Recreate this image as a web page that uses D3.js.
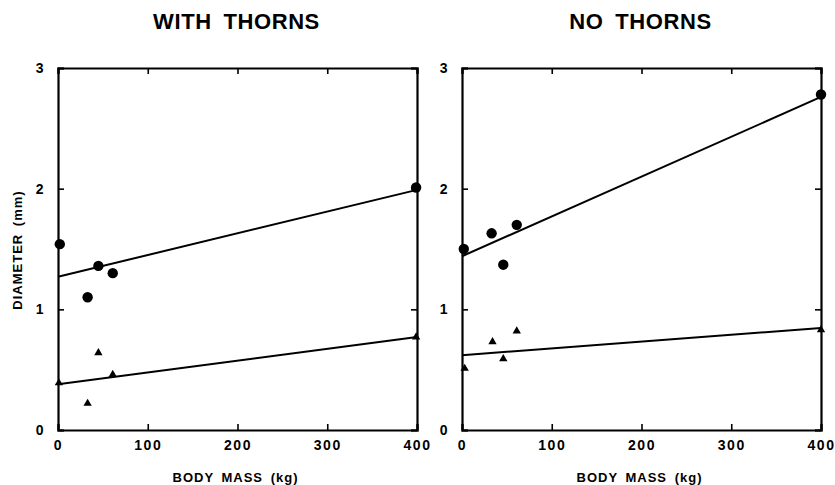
<!DOCTYPE html>
<html>
<head>
<meta charset="utf-8">
<script src="https://cdn.jsdelivr.net/npm/d3@7"></script>
<style>
  body { margin: 0; background: #fff; }
  svg { font-family: "Liberation Sans", Arial, sans-serif; font-weight: bold; }
</style>
</head>
<body>
<div class="chart"></div>
<script>
// panel titles
var panels = ['WITH THORNS', 'NO THORNS'];

// tick labels
var xTicks = [0, 100, 200, 300, 400];
var yTicks = [0, 1, 2, 3];

// circles (upper series)
var withCircles = [[2, 1.54], [33, 1.10], [45, 1.36], [61, 1.30], [399, 2.01]];
var noCircles = [[2, 1.50], [33, 1.63], [46, 1.37], [61, 1.70], [400, 2.78]];

// triangles (lower series)
var withTriangles = [[1, 0.39], [33, 0.22], [45, 0.64], [61, 0.46], [399, 0.77]];
var noTriangles = [[3, 0.51], [34, 0.73], [46, 0.59], [61, 0.82], [400, 0.83]];

// regression lines: [value at 0, value at 400]
var withLines = [[1.27, 1.99], [0.38, 0.77]];
var noLines = [[1.44, 2.76], [0.62, 0.845]];

var data = [
    { title: panels[0], circles: withCircles, triangles: withTriangles, lines: withLines, left: 58 },
    { title: panels[1], circles: noCircles, triangles: noTriangles, lines: noLines, left: 462 }
];

var W = 835, H = 485;
var plotTop = 68, plotBottom = 430, plotW = 359;

var svg = d3.select('.chart')
    .append('svg')
    .attr('width', W)
    .attr('height', H);

data.forEach(function(p, i) {
    var x = d3.scaleLinear().domain([0, 400]).range([p.left, p.left + plotW]);
    var y = d3.scaleLinear().domain([0, 3]).range([plotBottom, plotTop]);
    var g = svg.append('g');

    // title
    g.append('text')
        .attr('x', p.left + plotW / 2 - 1)
        .attr('y', 29)
        .attr('text-anchor', 'middle')
        .style('font-size', '22px')
        .style('letter-spacing', '0.6px')
        .style('word-spacing', '5px')
        .text(p.title);

    // axes with inward ticks
    var bottomAxis = d3.axisBottom(x).tickValues(xTicks).tickSize(-6).tickPadding(10);
    var topAxis = d3.axisTop(x).tickValues(xTicks).tickSize(-6).tickFormat('');
    var leftAxis = d3.axisLeft(y).tickValues(yTicks).tickSize(-6).tickPadding(13).tickFormat(d3.format('d'));
    var rightAxis = d3.axisRight(y).tickValues(yTicks).tickSize(-6).tickFormat('');

    g.append('g').attr('class', 'ax').attr('transform', 'translate(0,' + plotBottom + ')').call(bottomAxis);
    g.append('g').attr('class', 'ax').attr('transform', 'translate(0,' + plotTop + ')').call(topAxis);
    g.append('g').attr('class', 'ax').attr('transform', 'translate(' + p.left + ',0)').call(leftAxis);
    g.append('g').attr('class', 'ax').attr('transform', 'translate(' + (p.left + plotW) + ',0)').call(rightAxis);

    g.selectAll('.ax .domain').attr('stroke', '#000').attr('stroke-width', 2.2);
    g.selectAll('.ax line').attr('stroke', '#000').attr('stroke-width', 1.6);
    g.selectAll('.ax text')
        .attr('fill', '#000')
        .style('font-size', '14px')
        .style('font-weight', 'bold')
        .style('letter-spacing', '1.5px')
        .style('font-family', '"Liberation Sans", Arial, sans-serif');

    // x axis title
    g.append('text')
        .attr('x', p.left + plotW / 2 - 2)
        .attr('y', 482)
        .attr('text-anchor', 'middle')
        .style('font-size', '13px')
        .style('letter-spacing', '1px')
        .style('word-spacing', '3px')
        .text('BODY MASS (kg)');

    if (i === 0) {
        g.append('text')
            .attr('transform', 'translate(22,250) rotate(-90)')
            .attr('text-anchor', 'middle')
            .style('font-size', '13px')
            .style('letter-spacing', '1px')
            .style('word-spacing', '3px')
            .text('DIAMETER (mm)');
    }

    // fitted lines
    g.selectAll('.fit')
        .data(p.lines)
        .enter()
        .append('line')
        .attr('x1', x(0))
        .attr('x2', x(400))
        .attr('y1', d => y(d[0]))
        .attr('y2', d => y(d[1]))
        .attr('stroke', '#000')
        .attr('stroke-width', 2);

    // circles
    g.selectAll('.dot')
        .data(p.circles)
        .enter()
        .append('circle')
        .attr('cx', d => x(d[0]))
        .attr('cy', d => y(d[1]))
        .attr('r', 5.2)
        .attr('fill', '#000');

    // triangles
    var tri = d3.symbol().type(d3.symbolTriangle).size(30);
    g.selectAll('.tri')
        .data(p.triangles)
        .enter()
        .append('path')
        .attr('d', tri)
        .attr('transform', d => 'translate(' + x(d[0]) + ',' + y(d[1]) + ')')
        .attr('fill', '#000');
});
</script>
</body>
</html>
